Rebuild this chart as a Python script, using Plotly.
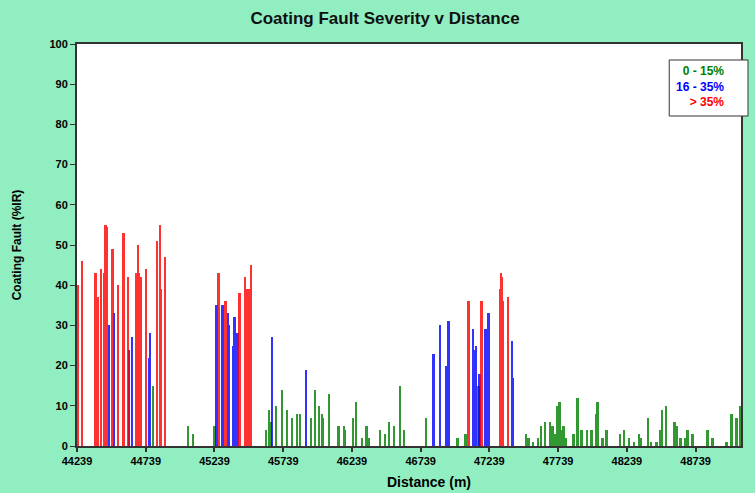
import plotly.graph_objects as go

# Distances (m) and coating fault severity (%IR)
red_dist = [44249, 44277, 44375, 44389, 44413, 44440, 44449, 44459, 44498, 44505,
            44541, 44580, 44614, 44672, 44686, 44691, 44705, 44744, 44824, 44843,
            44850, 44882, 45271, 45322, 45423, 45465, 45479, 45494, 45508, 47089,
            47183, 47321, 47326, 47333, 47341, 47377]
red_val = [40, 46, 43, 37, 44, 43, 55, 54.5, 49, 45,
           40, 53, 42, 43, 50, 43, 42, 44, 51, 55,
           39, 47, 43, 36, 38, 42, 39, 39, 45, 36,
           36, 39, 43, 42, 36, 37]

blue_dist = [44473, 44509, 44621, 44643, 44768, 44773, 45256, 45300, 45341, 45349,
             45380, 45387, 45409, 45658, 45905, 46835, 46879, 46929, 46944, 47123,
             47130, 47145, 47169, 47212, 47234, 47406, 47413]
blue_val = [30, 33, 24, 27, 22, 28, 35, 35, 33, 30,
            25, 32, 28, 27, 19, 23, 30, 20, 31, 29,
            24, 25, 18, 29, 33, 26, 17]

green_dist = [44795, 45046, 45085, 45242, 45617, 45639, 45648, 45687, 45733, 45769,
              45803, 45840, 45861, 45943, 45970, 45999, 46021, 46032, 46074, 46144,
              46185, 46192, 46246, 46272, 46315, 46347, 46366, 46446, 46482, 46509,
              46547, 46591, 46620, 46777, 47009, 47067, 47162, 47505, 47526, 47558,
              47595, 47616, 47644, 47679, 47700, 47715, 47737, 47751, 47758, 47780,
              47795, 47853, 47882, 47911, 47952, 47983, 48019, 48027, 48063, 48092,
              48191, 48220, 48258, 48293, 48327, 48341, 48392, 48414, 48457, 48479,
              48494, 48523, 48588, 48603, 48631, 48661, 48682, 48719, 48827, 48864,
              48965, 49001, 49038, 49067]
green_val = [15, 5, 3, 5, 4, 9, 6, 10, 14, 9,
             7, 8, 8, 7, 14, 10, 8, 7, 13, 5,
             5, 4, 7, 11, 2, 5, 2, 4, 3, 6,
             5, 15, 4, 7, 2, 3, 15, 3, 2, 1,
             2, 5, 6, 6, 5, 3, 10, 11, 4, 5,
             2, 3, 12, 4, 4, 4, 8, 11, 2, 4,
             3, 4, 2, 1, 3, 2, 7, 1, 1, 4,
             9, 10, 6, 5, 2, 2, 4, 3, 4, 2,
             1, 8, 7, 10]

x_ticks = [44239, 44739, 45239, 45739, 46239, 46739, 47239, 47739, 48239, 48739]
y_ticks = [0, 10, 20, 30, 40, 50, 60, 70, 80, 90, 100]

GREEN = "#008000"
BLUE = "#0000FF"
RED = "#FF0000"
BG = "#90EEC0"
FONT = "Liberation Sans, Arial, sans-serif"

fig = go.Figure()
for name, xs, ys, col in [("0 - 15%", green_dist, green_val, GREEN),
                          ("16 - 35%", blue_dist, blue_val, BLUE),
                          ("> 35%", red_dist, red_val, RED)]:
    fig.add_trace(go.Bar(x=xs, y=ys, name=name, width=13,
                         marker=dict(color=col, line=dict(width=0)),
                         opacity=0.8))

fig.update_layout(
    width=755, height=493,
    margin=dict(l=77, r=12, t=44, b=47),
    paper_bgcolor=BG, plot_bgcolor="white",
    showlegend=False, barmode="overlay", bargap=0,
    font=dict(family=FONT, color="black"),
    title=dict(text="Coating Fault Severity v Distance", x=0.51, xanchor="center",
               y=0.963, yanchor="middle",
               font=dict(size=17, family=FONT, weight="bold", color="#111")),
)
fig.update_xaxes(range=[44239, 49069], tickvals=x_ticks,
                 ticktext=[str(v) for v in x_ticks],
                 ticks="outside", ticklen=4, tickwidth=2, tickcolor="#333",
                 showline=True, linecolor="#333", linewidth=2, mirror=True,
                 showgrid=False, zeroline=False,
                 tickfont=dict(size=11, family=FONT, weight="bold"))
fig.update_yaxes(range=[0, 100], tickvals=y_ticks,
                 ticks="outside", ticklen=5, tickwidth=1, tickcolor="#333",
                 showline=True, linecolor="#333", linewidth=2, mirror=True,
                 showgrid=False, zeroline=False,
                 tickfont=dict(size=11, family=FONT, weight="bold"),
                 title=dict(text="Coating Fault (%IR)", standoff=25,
                            font=dict(size=12, family=FONT, weight="bold")))

fig.add_annotation(xref="paper", yref="paper", x=0.53, y=-0.09,
                   xanchor="center", yanchor="middle", showarrow=False,
                   text="Distance (m)",
                   font=dict(size=14, family=FONT, weight="bold"))

# legend box
fig.add_shape(type="rect", xref="paper", yref="paper",
              x0=0.8919, x1=1.0105, y0=0.8209, y1=0.9602,
              line=dict(color="#333", width=1), fillcolor="white", layer="above")
legend_text = (f'<span style="color:{GREEN}">0 - 15%</span><br>'
               f'<span style="color:{BLUE}">16 - 35%</span><br>'
               f'<span style="color:{RED}">&gt; 35%</span>')
fig.add_annotation(xref="paper", yref="paper", x=0.977, y=0.8955,
                   xanchor="right", yanchor="middle", showarrow=False,
                   text=legend_text, align="right",
                   font=dict(size=12, family=FONT, weight="bold"))

fig.write_html("out.html", config={"displayModeBar": False},
               post_script="document.body.style.margin='0';document.body.style.background='" + BG + "';")
